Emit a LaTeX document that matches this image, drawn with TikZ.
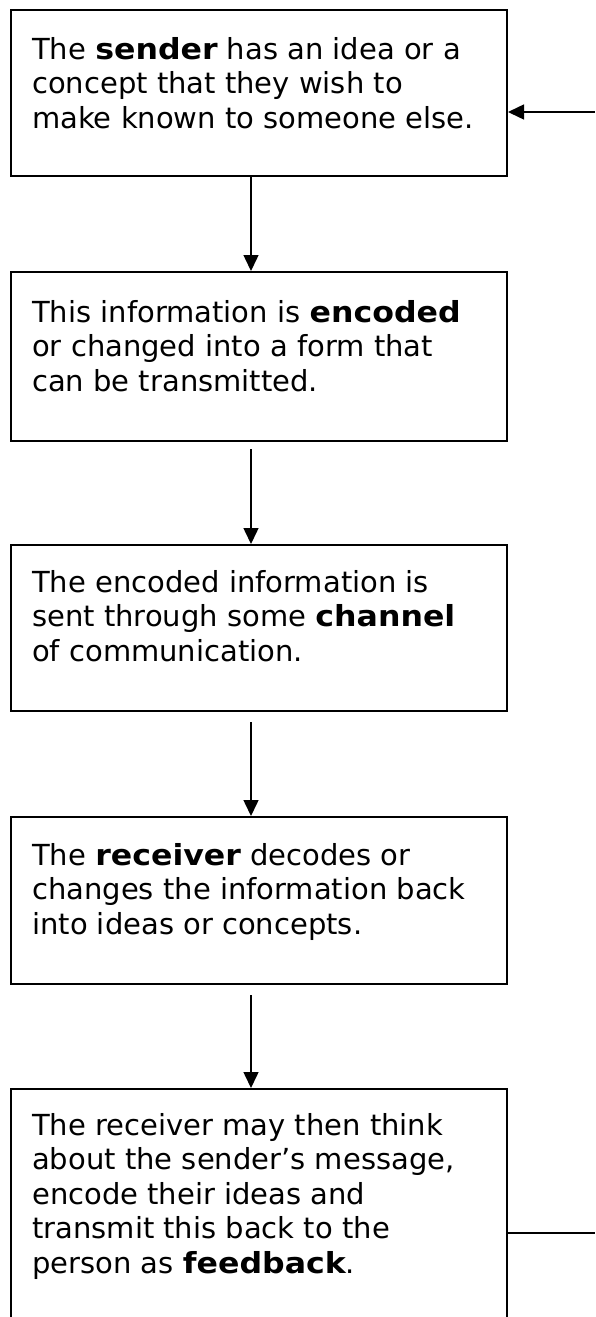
\documentclass[tikz,border=0pt]{standalone}
\usepackage{fontspec}
\setmainfont{DejaVu Sans}[BoldFeatures={FakeStretch=1.09}]
\usetikzlibrary{arrows.meta,calc}
\begin{document}
\begin{tikzpicture}[x=1pt,y=-1pt,
  box/.style={draw=black,line width=2pt,fill=white,inner sep=0pt,anchor=north west,minimum width=496pt},
  txt/.style={anchor=north west,inner sep=0pt,align=left,font=\fontsize{29}{34.5}\selectfont},
  conn/.style={line width=1.5pt,-{Triangle[width=15pt,length=16pt]}},
  plain/.style={line width=1.5pt}]
\useasboundingbox (0,0) rectangle (595,1317);
\clip (0,0) rectangle (595,1317);
\node[box,minimum height=166pt] (b1) at (10,9) {};
\node[box,minimum height=169pt] (b2) at (10,271) {};
\node[box,minimum height=166pt] (b3) at (10,544) {};
\node[box,minimum height=167pt] (b4) at (10,816) {};
\node[box,minimum height=260pt] (b5) at (10,1088) {};
\node[txt] (t1) at (32,37) {The \textbf{sender} has an idea or a\\concept that they wish to\\make known to someone else.};
\node[txt] (t2) at (32,300) {This information is \textbf{encoded}\\or changed into a form that\\can be transmitted.};
\node[txt] (t3) at (32,570) {The encoded information is\\sent through some \textbf{channel}\\of communication.};
\node[txt] (t4) at (32,843) {The \textbf{receiver} decodes or\\changes the information back\\into ideas or concepts.};
\node[txt] (t5) at (32,1113) {The receiver may then think\\about the sender’s message,\\encode their ideas and\\transmit this back to the\\person as \textbf{feedback}.};
\draw[conn] ([xshift=-8pt]b1.south) -- ([xshift=-8pt]b2.north);
\draw[conn] ([xshift=-8pt,yshift=-7pt]b2.south) -- ([xshift=-8pt]b3.north);
\draw[conn] ([xshift=-8pt,yshift=-10pt]b3.south) -- ([xshift=-8pt]b4.north);
\draw[conn] ([xshift=-8pt,yshift=-10pt]b4.south) -- ([xshift=-8pt]b5.north);
\coordinate (fbin) at (595,112);
\coordinate (fbout) at (595,1233);
\draw[conn] (fbin) -- (b1.east |- fbin);
\draw[plain] (b5.east |- fbout) -- (fbout);
\end{tikzpicture}
\end{document}
